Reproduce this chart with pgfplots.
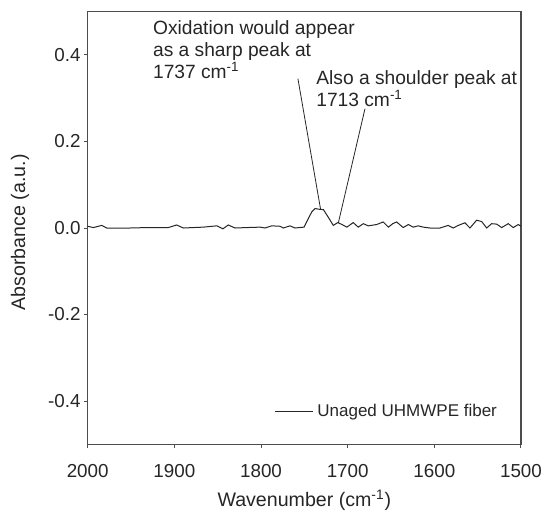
\documentclass[border=0pt]{standalone}
\usepackage{fontspec}
\setmainfont{Liberation Sans}
\usepackage{pgfplots}
\pgfplotsset{compat=1.18}
\begin{document}
\begin{tikzpicture}
\useasboundingbox (-43.85pt,-34.35pt) rectangle (228.15pt,222.15pt);
\begin{axis}[
  scale only axis,
  width=216.65pt, height=216.3pt,
  x dir=reverse,
  xmin=1500, xmax=2000, ymin=-0.5, ymax=0.5,
  xtick={1500,1600,1700,1800,1900,2000},
  xticklabels={1500,1600,1700,1800,1900,2000},
  ytick={-0.4,-0.2,0,0.2,0.4},
  yticklabels={-0.4,-0.2,0.0,0.2,0.4},
  tick pos=left, tick align=outside,
  major tick length=2pt,
  axis line style={black!70, line width=0.7pt},
  tick style={black!70, line width=0.5pt},
  every tick label/.append style={font=\fontsize{9.4}{11}\selectfont, text=black!85},
  xticklabel style={yshift=-4.3pt},
  yticklabel style={xshift=2pt},
  xlabel={Wavenumber (cm\textsuperscript{-1})},
  ylabel={Absorbance (a.u.)},
  label style={font=\fontsize{9.8}{11}\selectfont, text=black!85},
  xlabel style={at={(axis description cs:0.5,-0.129)}, anchor=center},
  ylabel style={at={(axis description cs:-0.1562,0.49)}, anchor=center},
  legend style={draw=none, fill=none, at={(axis description cs:0.43,0.0754)}, anchor=west,
    font=\fontsize{8.5}{10}\selectfont, text=black!85, inner sep=0pt},
  legend image code/.code={\draw[#1] (0pt,0pt) -- (19pt,0pt);},
  legend cell align=left,
  clip=false,
]
\addplot[black!85, line width=0.5pt] coordinates {
(2000,0.004) (1993.5,0.001) (1983.8,0.006) (1978,0.0) (1970.5,0.0) (1951,0.0)
(1932,0.001) (1907,0.001) (1897.3,0.007) (1889.7,0.0) (1866.6,0.002) (1851,0.005)
(1844,-0.002) (1837.8,0.007) (1830,0.0) (1816.5,0.001) (1801,0.002) (1795.4,0.0)
(1787.7,0.005) (1778,0.004) (1774.3,0.0) (1766.6,0.005) (1760.8,0.0) (1750.4,0.002)
(1741.5,0.037) (1737.7,0.045) (1732,0.043) (1728,0.0425) (1722.4,0.025) (1716.6,0.006)
(1711.5,0.0125) (1707,0.0085) (1701,0.002) (1693.6,0.0125) (1687.8,0.002) (1682,0.010)
(1676.2,0.005) (1666.6,0.008) (1659,0.014) (1653,0.002) (1648,0.010) (1643.5,0.014)
(1635.9,0.001) (1630,0.008) (1624.3,0.002) (1618.6,0.005) (1612.8,0.002) (1605,0.0)
(1593.5,0.0) (1584,0.006) (1578.2,0.0) (1572.4,0.006) (1564.7,0.012) (1558.9,0.0)
(1551.2,0.018) (1545.4,0.015) (1539.6,0.0) (1533.9,0.010) (1528.1,0.009) (1522.3,0.001)
(1514.7,0.010) (1508.9,0.001) (1503.2,0.008) (1500,0.004)
};
\addlegendentry{Unaged UHMWPE fiber}
\draw[black!85, line width=0.4pt] (axis cs:1757.4,0.345) -- (axis cs:1731.2,0.0425);
\draw[black!85, line width=0.4pt] (axis cs:1680,0.276) -- (axis cs:1710.8,0.0115);
\node[anchor=north west, inner sep=0pt, align=left, text=black!85,
  font=\fontsize{9.6}{11}\selectfont] at (axis cs:1925,0.48)
  {Oxidation would appear\\as a sharp peak at\\1737 cm\textsuperscript{-1}};
\node[anchor=north west, inner sep=0pt, align=left, text=black!85,
  font=\fontsize{9.6}{11.25}\selectfont] at (axis cs:1736.6,0.365)
  {Also a shoulder peak at\\1713 cm\textsuperscript{-1}};
\end{axis}
\end{tikzpicture}
\end{document}
